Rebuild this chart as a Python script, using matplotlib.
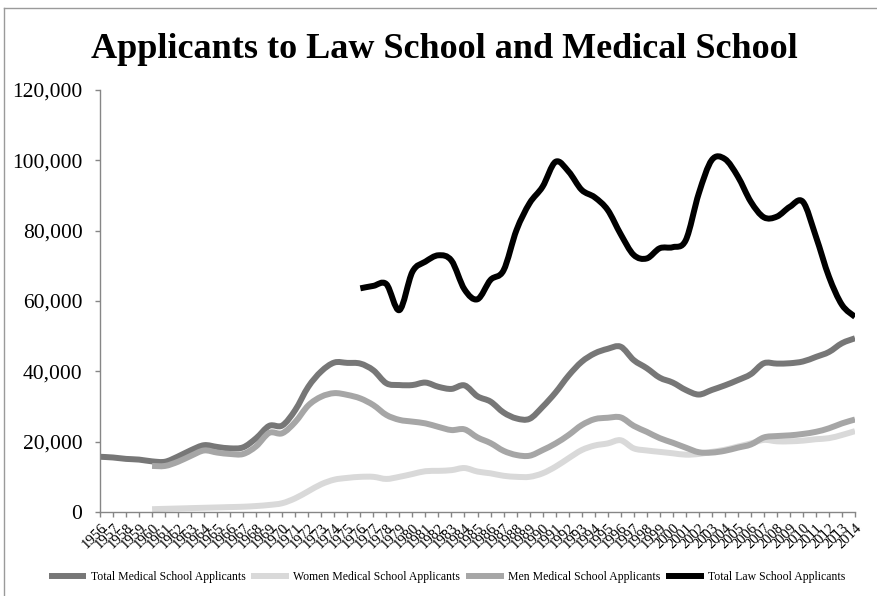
"""
Applicants to Law School and Medical School, 1956-2014 (grayscale Excel-style line chart)
"""
import matplotlib
matplotlib.use("Agg")
import matplotlib.pyplot as plt
from matplotlib.lines import Line2D
from matplotlib.path import Path
from matplotlib.patches import PathPatch
from matplotlib.ticker import FuncFormatter

plt.rcParams['font.family'] = ['Liberation Serif', 'DejaVu Serif']

years = list(range(1956, 2015))

# values (None = no data yet)
total_med = [15700, 15500, 15100, 14900, 14400, 14300, 15800, 17600, 19000, 18500,
             18100, 18400, 21000, 24500, 24600, 29000, 35600, 40000, 42500, 42400,
             42200, 40300, 36600, 36100, 36100, 36800, 35600, 35000, 36000, 32900,
             31400, 28300, 26600, 26500, 29900, 34000, 38800, 42700, 45100, 46400,
             47000, 43200, 40900, 38200, 36800, 34700, 33400, 34700, 36000, 37500,
             39200, 42300, 42200, 42300, 42800, 44100, 45500, 48000, 49400]

women_med = [None] * 4 + [800, 900, 1000, 1100, 1200, 1300,
             1400, 1500, 1700, 2000, 2500, 3900, 5900, 7900, 9200, 9700,
             10000, 10000, 9400, 10000, 10800, 11600, 11700, 11900, 12500, 11500,
             11000, 10300, 10000, 10000, 11000, 12900, 15300, 17600, 18900, 19500,
             20400, 18100, 17500, 17100, 16700, 16300, 16500, 17100, 17700, 18600,
             19500, 20500, 20100, 20100, 20300, 20700, 21000, 21900, 23000]

men_med = [None] * 4 + [13100, 13100, 14300, 16000, 17500, 16900,
           16500, 16500, 18700, 22500, 22400, 25600, 30300, 32800, 33800, 33300,
           32300, 30400, 27600, 26200, 25700, 25200, 24200, 23300, 23500, 21200,
           19600, 17400, 16200, 16000, 17600, 19500, 21900, 24700, 26400, 26800,
           26900, 24500, 22800, 21000, 19700, 18300, 17000, 16900, 17400, 18300,
           19200, 21200, 21600, 21800, 22200, 22800, 23800, 25200, 26300]

total_law = [None] * 20 + [63600, 64300, 64800, 57400, 68300, 71200, 73000, 71500, 63300,
             60500, 66000, 68700, 80200, 87800, 92500, 99600, 96800, 91600, 89500,
             85900, 79000, 73100, 72100, 75000, 75300, 77300, 90600, 100100, 100400,
             95400, 88200, 83800, 84000, 86800, 88200, 78300, 66900, 58900, 55500]

series = [
    ("Total Medical School Applicants", total_med, '#777777'),
    ("Women Medical School Applicants", women_med, '#d9d9d9'),
    ("Men Medical School Applicants", men_med, '#a6a6a6'),
    ("Total Law School Applicants", total_law, '#000000'),
]
y_ticks = [0, 20000, 40000, 60000, 80000, 100000, 120000]
LW = 4.3


def smooth_path(xs, ys):
    # Excel-style "smoothed line": cubic Bezier through every data point
    n = len(xs)
    verts = [(xs[0], ys[0])]
    codes = [Path.MOVETO]
    for i in range(n - 1):
        x0, y0 = xs[max(i - 1, 0)], ys[max(i - 1, 0)]
        x1, y1 = xs[i], ys[i]
        x2, y2 = xs[i + 1], ys[i + 1]
        x3, y3 = xs[min(i + 2, n - 1)], ys[min(i + 2, n - 1)]
        verts += [(x1 + (x2 - x0) / 6, y1 + (y2 - y0) / 6),
                  (x2 - (x3 - x1) / 6, y2 - (y3 - y1) / 6),
                  (x2, y2)]
        codes += [Path.CURVE4] * 3
    return Path(verts, codes)


fig = plt.figure(figsize=(8.78, 5.96), dpi=100)
ax = fig.add_axes([100 / 878, 1 - 512 / 596, 755 / 878, 422 / 596])

handles = []
for label, vals, color in series:
    xs = [y for y, v in zip(years, vals) if v is not None]
    ys = [v for v in vals if v is not None]
    ax.add_patch(PathPatch(smooth_path(xs, ys), facecolor='none', edgecolor=color,
                           lw=LW, joinstyle='round', capstyle='butt'))
    handles.append(Line2D([], [], color=color, lw=LW, solid_capstyle='butt', label=label))

ax.set_xlim(1956, 2014)
ax.set_ylim(0, 120000)
ax.set_yticks(y_ticks)
ax.yaxis.set_major_formatter(FuncFormatter(lambda v, p: f"{int(v):,}"))
ax.set_xticks(years)
ax.set_xticklabels([str(y) for y in years], rotation=45, ha='right',
                   rotation_mode='anchor', fontsize=10.5)
ax.tick_params(axis='y', labelsize=15.5, length=3.6, width=1, color='#868686', pad=9)
ax.tick_params(axis='x', length=3.6, width=1, color='#868686', pad=3)

for side in ['top', 'right']:
    ax.spines[side].set_visible(False)
for side in ['left', 'bottom']:
    ax.spines[side].set_color('#868686')
    ax.spines[side].set_linewidth(1)

fig.text(0.506, 1 - 58 / 596, "Applicants to Law School and Medical School",
         ha='center', va='baseline', fontsize=26, fontweight='bold')

fig.legend(handles=handles, loc='center', bbox_to_anchor=(0.509, 1 - 577 / 596), ncol=4,
           frameon=False, fontsize=8.5, handlelength=3.2,
           handletextpad=0.35, columnspacing=0.5)

# chart area border (top and left edges visible in the crop)
fig.add_artist(Line2D([4 / 878, 4 / 878], [0, 1 - 8 / 596], color='#9a9a9a', lw=1))
fig.add_artist(Line2D([4 / 878, 1], [1 - 8 / 596, 1 - 8 / 596], color='#9a9a9a', lw=1))

plt.savefig("out.png", dpi=100)
plt.close()
